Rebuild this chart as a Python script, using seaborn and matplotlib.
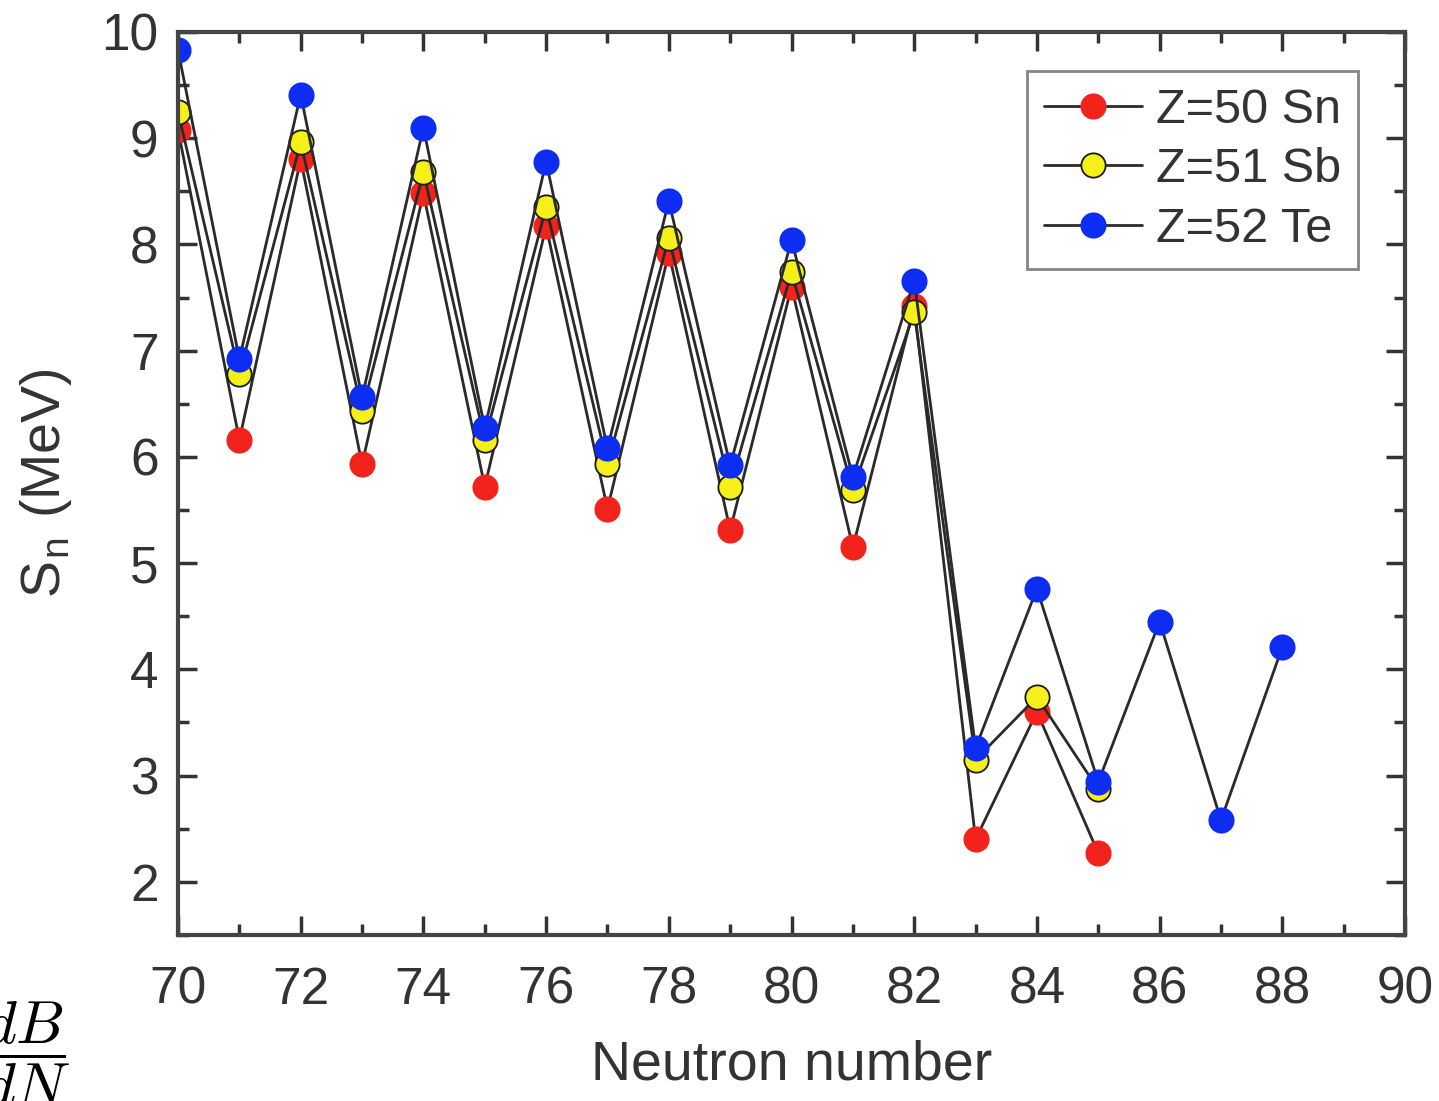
"""Neutron separation energies for Sn, Sb and Te isotopes."""
import pandas as pd
import seaborn as sns
import matplotlib.pyplot as plt
from matplotlib.ticker import MultipleLocator

# Values
n_sn = [70, 71, 72, 73, 74, 75, 76, 77, 78, 79, 80, 81, 82, 83, 84, 85]
sn_values = [9.08, 6.16, 8.80, 5.93, 8.48, 5.72, 8.17, 5.51, 7.92, 5.31, 7.60, 5.15, 7.42, 2.40, 3.60, 2.27]

n_sb = [70, 71, 72, 73, 74, 75, 76, 77, 78, 79, 80, 81, 82, 83, 84, 85]
sb_values = [9.25, 6.78, 8.96, 6.43, 8.68, 6.16, 8.35, 5.93, 8.06, 5.72, 7.74, 5.69, 7.36, 3.15, 3.74, 2.87]

n_te = [70, 71, 72, 73, 74, 75, 76, 77, 78, 79, 80, 81, 82, 83, 84, 85, 86, 87, 88]
te_values = [9.83, 6.92, 9.41, 6.56, 9.10, 6.27, 8.78, 6.08, 8.41, 5.92, 8.04, 5.81, 7.66, 3.26, 4.76, 2.94, 4.45, 2.58, 4.21]

series_labels = ["Z=50 Sn", "Z=51 Sb", "Z=52 Te"]
marker_colors = ["#f2231a", "#f4f018", "#0d2df2"]
edge_colors = ["#f2231a", "#1a1a1a", "#0d2df2"]

sns.set_style("ticks")
plt.rcParams["font.family"] = ["Liberation Sans", "DejaVu Sans"]
plt.rcParams["mathtext.fontset"] = "cm"

fig = plt.figure(figsize=(14.39, 11.01), dpi=100)
ax = fig.add_axes([0.1237, 0.1508, 0.8527, 0.8202])

frames = [
    pd.DataFrame({"N": n_sn, "Sn": sn_values}),
    pd.DataFrame({"N": n_sb, "Sn": sb_values}),
    pd.DataFrame({"N": n_te, "Sn": te_values}),
]

for df, label, fc, ec in zip(frames, series_labels, marker_colors, edge_colors):
    sns.lineplot(
        data=df, x="N", y="Sn", ax=ax, label=label,
        color="#2a2a2a", linewidth=2.0, marker="o", markersize=17.5,
        markerfacecolor=fc, markeredgecolor=ec, markeredgewidth=1.3,
    )

ax.set_xlim(70, 90)
ax.set_ylim(1.5, 10)
ax.xaxis.set_major_locator(MultipleLocator(2))
ax.xaxis.set_minor_locator(MultipleLocator(1))
ax.yaxis.set_major_locator(MultipleLocator(1))
ax.yaxis.set_minor_locator(MultipleLocator(0.5))
ax.tick_params(which="both", direction="in", top=True, right=True,
               color="#333333", width=2.5)
ax.tick_params(which="major", length=14, labelsize=37, pad=14,
               labelcolor="#333333")
ax.tick_params(axis="x", which="major", pad=22)
ax.tick_params(which="minor", length=8)
for spine in ax.spines.values():
    spine.set_linewidth(3)
    spine.set_color("#444444")

ax.set_xlabel("Neutron number", fontsize=40, color="#333333", labelpad=18)
ax.set_ylabel("S$_\\mathregular{n}$ (MeV)", fontsize=40, color="#333333",
              labelpad=20)

leg = ax.legend(loc="upper right", bbox_to_anchor=(0.962, 0.957),
                fontsize=35, frameon=True, fancybox=False,
                handlelength=2.0, handletextpad=0.3, labelspacing=0.3,
                borderpad=0.35, borderaxespad=0)
leg.get_frame().set_edgecolor("#666666")
leg.get_frame().set_linewidth(2)
for t in leg.get_texts():
    t.set_color("#333333")

# partly cropped formula in the lower left corner
fig.text(0.049, 0.042, r"$\dfrac{dB}{dN}$", fontsize=44, ha="right",
         va="center", color="black")

fig.savefig("out.png", dpi=100)
plt.close(fig)
